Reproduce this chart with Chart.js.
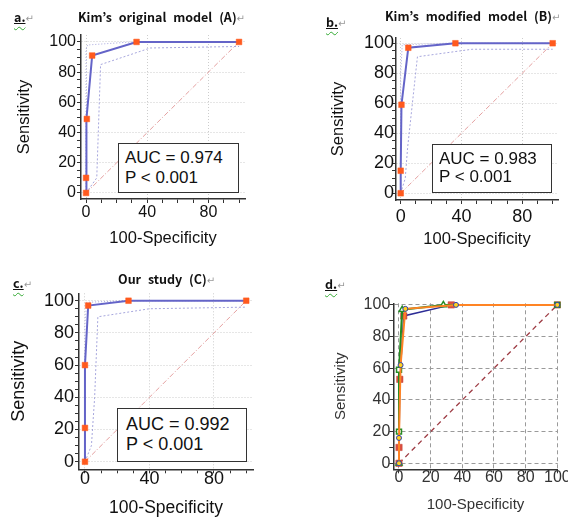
<!DOCTYPE html>
<html lang="en">
<head>
<meta charset="UTF-8" />
<title>ROC curves</title>
<style>
  body { margin: 0; background: #fff; }
  #wrap { position: relative; width: 568px; height: 519px; overflow: hidden; font-family: "Liberation Sans", Arial, sans-serif; }
  canvas { position: absolute; }
  .lbl { position: absolute; font-family: "Noto Sans CJK KR", sans-serif; font-weight: bold; font-size: 12.5px; line-height: 14px; white-space: nowrap; color: #111; word-spacing: 4px; }
  .ret { color: #999; font-weight: normal; font-size: 10px; font-family: "DejaVu Sans", sans-serif; }
  .tag { text-decoration: underline wavy #3a3; text-underline-offset: 4px; text-decoration-thickness: 1px; }
  .tag span { text-decoration: underline solid #111; text-underline-offset: 1px; }
  .auc { position: absolute; background: #fff; border: 1.5px solid #333; box-sizing: border-box; color: #111; white-space: nowrap; }
  .auc div { position: absolute; left: 0; }
</style>
</head>
<body>
<div id="wrap">
  <canvas id="rocD" width="284" height="254" style="left:284px;top:260px"></canvas>
  <canvas id="rocA" width="284" height="248" style="left:0;top:0"></canvas>
  <canvas id="rocB" width="284" height="249" style="left:284px;top:0"></canvas>
  <canvas id="rocC" width="284" height="259" style="left:0;top:260px"></canvas>

  <div class="lbl" style="left:14px;top:10px"><span class="tag"><span>a.</span></span><span class="ret">↵</span></div>
  <div class="lbl" style="left:78px;top:10px">Kim’s original model (A)<span class="ret">↵</span></div>
  <div class="lbl" style="left:326px;top:15px"><span class="tag"><span>b.</span></span><span class="ret">↵</span></div>
  <div class="lbl" style="left:385px;top:9px">Kim’s modified model (B)<span class="ret">↵</span></div>
  <div class="lbl" style="left:13px;top:276px"><span class="tag"><span>c.</span></span><span class="ret">↵</span></div>
  <div class="lbl" style="left:118px;top:272px">Our study (C)<span class="ret">↵</span></div>
  <div class="lbl" style="left:325px;top:277px"><span class="tag"><span>d.</span></span><span class="ret">↵</span></div>

  <div class="auc" style="left:118px;top:143px;width:121px;height:50px;font-size:17px">
    <div style="left:6px;top:4px">AUC = 0.974</div>
    <div style="left:6px;top:24px">P &lt; 0.001</div>
  </div>
  <div class="auc" style="left:432px;top:144px;width:120px;height:49px;font-size:17px">
    <div style="left:6px;top:4px">AUC = 0.983</div>
    <div style="left:6px;top:22px">P &lt; 0.001</div>
  </div>
  <div class="auc" style="left:117px;top:408px;width:130px;height:54px;font-size:18px">
    <div style="left:8px;top:5px">AUC = 0.992</div>
    <div style="left:8px;top:25px">P &lt; 0.001</div>
  </div>
</div>

<script src="https://cdn.jsdelivr.net/npm/chart.js@4.4.1/dist/chart.umd.min.js"></script>
<script>
    // a. Kim's original model (A)
    const aFpr = [0, 0, 0.5, 4, 33, 100];
    const aSens = [0, 10, 49, 91, 100, 100];
    const aLoFpr = [0, 7, 8, 9.5, 42, 100];
    const aLoSens = [0, 10, 40, 85, 96, 97];
    const aHiFpr = [0, 0, 1, 30, 100];
    const aHiSens = [0, 95, 98, 100, 100];

    // b. Kim's modified model (B)
    const bFpr = [0, 0, 0.5, 5, 36, 100];
    const bSens = [0, 15, 59, 97, 100, 100];
    const bLoFpr = [0, 3, 4.5, 11, 47, 100];
    const bLoSens = [0, 10, 30, 91, 96, 96];
    const bHiFpr = [0, 0, 1, 30, 100];
    const bHiSens = [0, 80, 99, 100, 100];

    // c. Our study (C)
    const cFpr = [0, 0, 0, 2, 27, 100];
    const cSens = [0, 21, 60, 97, 100, 100];
    const cLoFpr = [0, 4, 6, 8, 40, 100];
    const cLoSens = [0, 10, 40, 90, 95, 96];
    const cHiFpr = [0, 0, 1, 25, 100];
    const cHiSens = [0, 85, 99, 100, 100];

    // d. all three curves together
    const dAFpr = [0, 0, 0.5, 3, 33, 100];
    const dASens = [0, 10, 53, 93, 100, 100];
    const dBFpr = [0, 0, 1, 4, 36, 100];
    const dBSens = [0, 16, 62, 97.5, 100, 100];
    const dCFpr = [0, 0, 0, 2, 28, 100];
    const dCSens = [0, 20, 59, 97, 100, 100];
    const dCMarks = ['triangle', 'rect', 'rect', 'triangle', 'triangle', 'rect'];

    // chance line
    const chanceFpr = [0, 100];
    const chanceSens = [0, 100];

    // ticks
    const yTicks = [0, 5, 10, 15, 20, 25, 30, 35, 40, 45, 50, 55, 60, 65, 70, 75, 80, 85, 90, 95, 100];
    const yLabels = [0, 20, 40, 60, 80, 100];
    const xTicks = [0, 10, 20, 30, 40, 50, 60, 70, 80, 90, 100];
    const xLabelsABC = [0, 40, 80];
    const xTicksD = [0, 20, 40, 60, 80, 100];
    const xLabelsD = [0, 20, 40, 60, 80, 100];
    const yTicksD = [0, 10, 20, 30, 40, 50, 60, 70, 80, 90, 100];

    const FONT = '"Liberation Sans", Arial, sans-serif';
    const pts = (xs, ys) => xs.map((x, i) => ({ x: x, y: ys[i] }));

    function axis(o) {
        return {
            type: 'linear',
            position: o.pos,
            min: o.min,
            max: o.max,
            afterBuildTicks: s => { s.ticks = o.ticks.map(v => ({ value: v })); },
            afterFit: s => {
                if (o.pos === 'bottom') s.height = o.size; else s.width = o.size;
                s.paddingLeft = s.paddingRight = s.paddingTop = s.paddingBottom = 0;
            },
            ticks: {
                autoSkip: false,
                maxRotation: 0,
                padding: o.pad,
                color: o.color,
                font: { family: FONT, size: o.fs, lineHeight: 1 },
                callback: v => o.labels.includes(v) ? String(v) : ''
            },
            grid: {
                color: c => (c.tick && o.labels.includes(c.tick.value)) ? o.grid : 'rgba(0,0,0,0)',
                tickColor: '#333',
                tickLength: 4,
                lineWidth: 1
            },
            border: { display: true, color: '#333', width: 1.5, dash: o.dash },
            title: {
                display: true,
                text: o.title,
                color: o.color,
                font: { family: FONT, size: o.tfs },
                padding: { top: o.tp, bottom: 0 }
            }
        };
    }

    function line(data, color, width, dash, order) {
        return { data: data, showLine: true, borderColor: color, borderWidth: width, borderDash: dash,
                 pointRadius: 0, order: order, clip: false };
    }

    // d. comparison of the three curves
    new Chart(document.getElementById('rocD'), {
        type: 'scatter',
        data: {
            datasets: [
                Object.assign(line(pts(dBFpr, dBSens), '#ff8424', 2, [], 0), {
                    pointRadius: 2.5, pointBackgroundColor: '#ffd21e', pointBorderColor: '#3040b0', pointBorderWidth: 1
                }),
                Object.assign(line(pts(dCFpr, dCSens), '#238b23', 2, [], 1), {
                    pointRadius: 3.5, pointStyle: dCMarks, pointBackgroundColor: '#fff',
                    pointBorderColor: '#238b23', pointBorderWidth: 1.5
                }),
                Object.assign(line(pts(dAFpr, dASens), '#2c2c96', 1.5, [], 2), {
                    pointRadius: 4.5, pointStyle: 'rect', pointBackgroundColor: '#dc5040',
                    pointBorderColor: '#c04038', pointBorderWidth: 0.5
                }),
                line(pts(chanceFpr, chanceSens), '#9e3c44', 1.3, [5, 4], 3)
            ]
        },
        options: {
            responsive: false,
            animation: false,
            layout: { padding: { top: 43.3, right: 10.2, left: 0, bottom: 0 } },
            plugins: { legend: { display: false }, tooltip: { enabled: false } },
            scales: {
                x: axis({ pos: 'bottom', min: -3.6, max: 100.3, ticks: xTicksD, labels: xLabelsD,
                          size: 44.7, pad: -4, fs: 16, tfs: 15, tp: 0, color: '#333',
                          grid: '#9a9a9a', dash: [4, 3], title: '100-Specificity' }),
                y: axis({ pos: 'left', min: -3.8, max: 101, ticks: yTicksD, labels: yLabels,
                          size: 109.3, pad: -1, fs: 16, tfs: 15, tp: 47.7, color: '#333',
                          grid: '#9a9a9a', dash: [4, 3], title: 'Sensitivity' })
            }
        }
    });

    function rocPanel(id, g, fpr, sens, loF, loS, hiF, hiS) {
        const ciColor = 'rgba(150,150,215,0.85)';
        new Chart(document.getElementById(id), {
            type: 'scatter',
            data: {
                datasets: [
                    Object.assign(line(pts(fpr, sens), '#6464c8', 2, [], 0), {
                        pointRadius: 4, pointStyle: 'rect',
                        pointBackgroundColor: '#ff5a1e', pointBorderColor: '#ff5a1e', pointBorderWidth: 0.5
                    }),
                    line(pts(loF, loS), ciColor, 1, [2, 2], 1),
                    line(pts(hiF, hiS), ciColor, 1, [1, 2], 1),
                    line(pts(chanceFpr, chanceSens), 'rgba(225,150,150,0.9)', 1, [5, 2, 1, 2], 2)
                ]
            },
            options: {
                responsive: false,
                animation: false,
                layout: { padding: { top: g.top, right: g.right, left: 0, bottom: 0 } },
                plugins: { legend: { display: false }, tooltip: { enabled: false } },
                scales: {
                    x: axis({ pos: 'bottom', min: g.xmin, max: g.xmax, ticks: xTicks, labels: xLabelsABC,
                              size: g.xh, pad: g.xpad, fs: g.fs, tfs: g.xtfs, tp: 0, color: '#111',
                              grid: '#cdcdcd', dash: [1, 2], title: '100-Specificity' }),
                    y: axis({ pos: 'left', min: g.ymin, max: g.ymax, ticks: yTicks, labels: yLabels,
                              size: g.yw, pad: g.ypad, fs: g.fs, tfs: g.ytfs, tp: g.ytp, color: '#111',
                              grid: '#cdcdcd', dash: [1, 2], title: 'Sensitivity' })
                }
            }
        });
    }

    rocPanel('rocA', { top: 35, right: 39, xmin: -3.3, xmax: 103.9, ymin: -4, ymax: 104.6, xh: 49, yw: 81,
                       xpad: 2, ypad: 1, fs: 16, xtfs: 16.5, ytfs: 16.5, ytp: 15 },
             aFpr, aSens, aLoFpr, aLoSens, aHiFpr, aHiSens);
    rocPanel('rocB', { top: 38, right: 10, xmin: -3.1, xmax: 103.5, ymin: -4.5, ymax: 103.5, xh: 49, yw: 112,
                       xpad: 4, ypad: -2, fs: 18, xtfs: 16.5, ytfs: 16.5, ytp: 45 },
             bFpr, bSens, bLoFpr, bLoSens, bHiFpr, bHiSens);
    rocPanel('rocC', { top: 33.3, right: 31, xmin: -3.7, xmax: 104.2, ymin: -4.7, ymax: 104.6, xh: 49.7, yw: 79,
                       xpad: -3, ypad: 1, fs: 18, xtfs: 17.5, ytfs: 18, ytp: 8.7 },
             cFpr, cSens, cLoFpr, cLoSens, cHiFpr, cHiSens);
</script>
</body>
</html>
